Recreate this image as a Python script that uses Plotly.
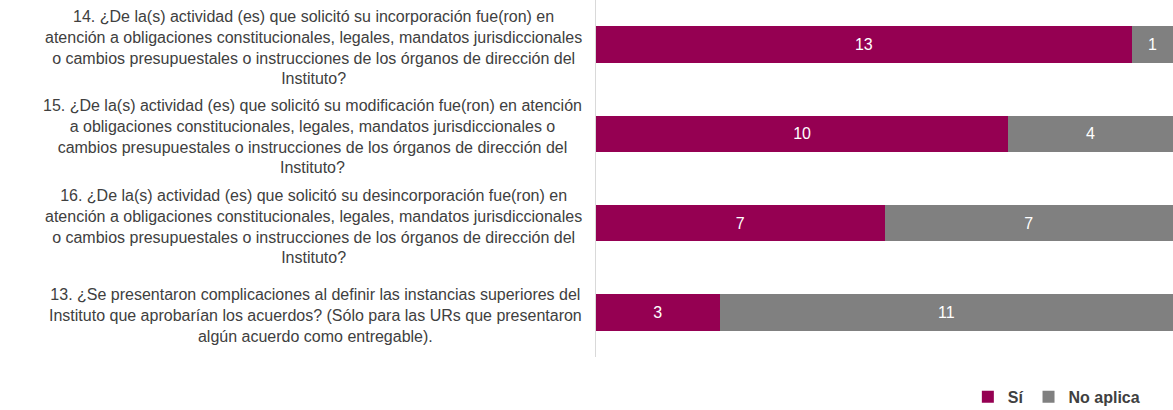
import plotly.graph_objects as go

categories = [
    "14. ¿De la(s) actividad (es) que solicitó su incorporación fue(ron) en<br>atención a obligaciones constitucionales, legales, mandatos jurisdiccionales<br>o cambios presupuestales o instrucciones de los órganos de dirección del<br>Instituto?",
    "15. ¿De la(s) actividad (es) que solicitó su modificación fue(ron) en atención<br>a obligaciones constitucionales, legales, mandatos jurisdiccionales o<br>cambios presupuestales o instrucciones de los órganos de dirección del<br>Instituto?",
    "16. ¿De la(s) actividad (es) que solicitó su desincorporación fue(ron) en<br>atención a obligaciones constitucionales, legales, mandatos jurisdiccionales<br>o cambios presupuestales o instrucciones de los órganos de dirección del<br>Instituto?",
    "13. ¿Se presentaron complicaciones al definir las instancias superiores del<br>Instituto que aprobarían los acuerdos? (Sólo para las URs que presentaron<br>algún acuerdo como entregable).",
]
keys = ["q14", "q15", "q16", "q13"]
si = [13, 10, 7, 3]
no_aplica = [1, 4, 7, 11]

fig = go.Figure()
fig.add_trace(go.Bar(
    y=keys, x=si, orientation="h", name="Sí",
    marker=dict(color="#950052", line=dict(width=0)),
    text=si, textposition="inside", insidetextanchor="middle",
    textfont=dict(color="white", size=16, family="Liberation Sans"),
    hoverinfo="skip",
))
fig.add_trace(go.Bar(
    y=keys, x=no_aplica, orientation="h", name="No aplica",
    marker=dict(color="#808080", line=dict(width=0)),
    text=no_aplica, textposition="inside", insidetextanchor="middle",
    textfont=dict(color="white", size=16, family="Liberation Sans"),
    hoverinfo="skip",
))

for k, label in zip(keys, categories):
    fig.add_annotation(
        x=0, xref="paper", y=k, yref="y",
        text=label, showarrow=False,
        xanchor="right", xshift=-12, yshift=-3, align="center",
        font=dict(family="Liberation Sans", size=16, color="#404040"),
    )

fig.update_layout(
    width=1173, height=410,
    margin=dict(l=596, r=0, t=0, b=53, autoexpand=False),
    barmode="stack", bargap=0.59,
    plot_bgcolor="white", paper_bgcolor="white",
    font=dict(family="Liberation Sans", color="#404040"),
    showlegend=True,
    legend=dict(
        orientation="h",
        xref="container", x=0.976, xanchor="right",
        yref="container", y=0.032, yanchor="middle",
        font=dict(size=16, color="#404040", weight="bold"),
        traceorder="normal", itemwidth=30,
    ),
    xaxis=dict(range=[0, 14], visible=False, fixedrange=True),
    yaxis=dict(
        categoryorder="array", categoryarray=keys, autorange="reversed",
        showticklabels=False, ticks="", showgrid=False,
        showline=True, linecolor="#d9d9d9", linewidth=1, zeroline=False,
    ),
)

fig.write_html(
    "out.html",
    config={"displayModeBar": False},
    post_script="document.body.style.margin='0';document.body.style.overflow='hidden';",
)
